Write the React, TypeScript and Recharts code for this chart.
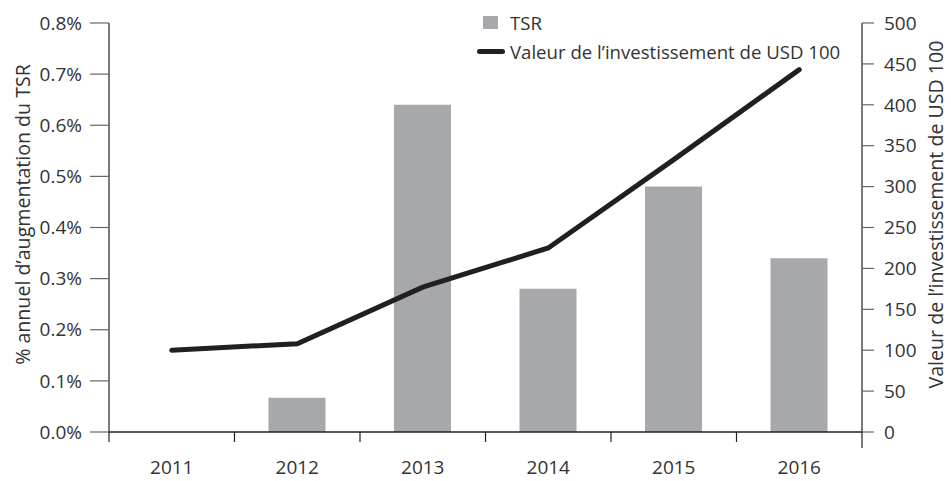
import { ComposedChart, Bar, Line, XAxis, YAxis, Legend } from 'recharts';

const YEARS = ['2011', '2012', '2013', '2014', '2015', '2016'];
const TSR_PCT = [0, 0.067, 0.64, 0.28, 0.48, 0.34];
const INVEST_VALUE = [100, 108, 177, 225, 333, 443];
const PCT_TICKS = [0, 0.1, 0.2, 0.3, 0.4, 0.5, 0.6, 0.7, 0.8];
const USD_TICKS = [0, 50, 100, 150, 200, 250, 300, 350, 400, 450, 500];

const FONT = '"Open Sans", sans-serif';
const TEXT = '#333333';
const AXIS = '#231f20';
const BAR_COLOR = '#a7a8ab';
const LINE_COLOR = '#231f20';

const data = YEARS.map((year, i) => ({ year, tsr: TSR_PCT[i], value: INVEST_VALUE[i] }));

// plot is 753px wide over 6 categories
const HALF_BAND = 753 / YEARS.length / 2;

const YearTick = ({ x, y, payload, index }: any) => (
  <g>
    <line x1={x - HALF_BAND} y1={y - 10} x2={x - HALF_BAND} y2={y} stroke={AXIS} strokeWidth={1.2} />
    {index === YEARS.length - 1 && (
      <line x1={x + HALF_BAND} y1={y - 10} x2={x + HALF_BAND} y2={y + 6} stroke={AXIS} strokeWidth={1.2} />
    )}
    <text x={x} y={y + 32} textAnchor="middle" fill={TEXT} fontFamily={FONT} fontSize={19}>
      {payload.value}
    </text>
  </g>
);

const renderLegend = () => (
  <div style={{ fontFamily: FONT, fontSize: 18.6, color: TEXT, lineHeight: '29px' }}>
    <div style={{ display: 'flex', alignItems: 'center' }}>
      <span style={{ display: 'inline-block', width: 15, height: 13, background: BAR_COLOR, marginLeft: 6, marginRight: 12 }} />
      TSR
    </div>
    <div style={{ display: 'flex', alignItems: 'center' }}>
      <span style={{ display: 'inline-block', width: 28, height: 5, background: LINE_COLOR, borderRadius: 3, marginRight: 5 }} />
      Valeur de l’investissement de USD 100
    </div>
  </div>
);

const sideTitle = (text: string, dx: number) => ({ viewBox }: any) => {
  const cx = viewBox.x + dx;
  const cy = viewBox.y + viewBox.height / 2 - 13;
  return (
    <text x={cx} y={cy} transform={`rotate(-90 ${cx} ${cy})`} textAnchor="middle" dominantBaseline="central"
      fill={TEXT} fontFamily={FONT} fontSize={19.6}>
      {text}
    </text>
  );
};

export default function App() {
  return (
    <div style={{ position: 'absolute', left: 0, top: 0, width: 951, height: 481, background: '#fff' }}>
      <ComposedChart width={951} height={481} data={data} margin={{ top: 23, right: 0, bottom: 0, left: 0 }} barSize={57}>
        <XAxis dataKey="year" height={49} axisLine={{ stroke: AXIS, strokeWidth: 1.5 }} tickLine={false}
          tickSize={10} tickMargin={0} tick={<YearTick />} interval={0} />
        <YAxis yAxisId="pct" orientation="left" width={109} domain={[0, 0.8]} ticks={PCT_TICKS}
          tickFormatter={(v: number) => `${v.toFixed(1)}%`} tickSize={19} tickMargin={8}
          axisLine={{ stroke: AXIS, strokeWidth: 1.2 }} tickLine={{ stroke: '#666', strokeWidth: 1.2 }}
          tick={{ fill: TEXT, fontFamily: FONT, fontSize: 19 }}
          label={{ content: sideTitle('% annuel d’augmentation du TSR', 22) }} />
        <YAxis yAxisId="usd" orientation="right" width={89} domain={[0, 500]} ticks={USD_TICKS}
          tickSize={12} tickMargin={10}
          axisLine={{ stroke: AXIS, strokeWidth: 1.2 }} tickLine={{ stroke: '#666', strokeWidth: 1.2 }}
          tick={{ fill: TEXT, fontFamily: FONT, fontSize: 19, textAnchor: 'start' }}
          label={{ content: sideTitle('Valeur de l’investissement de USD 100', 73) }} />
        <Legend layout="vertical" align="center" verticalAlign="middle" content={renderLegend}
          wrapperStyle={{ top: 8, left: 477, width: 'auto' }} />
        <Bar yAxisId="pct" dataKey="tsr" name="TSR" fill={BAR_COLOR} isAnimationActive={false} />
        <Line yAxisId="usd" dataKey="value" name="Valeur de l’investissement de USD 100" type="linear"
          stroke={LINE_COLOR} strokeWidth={5} strokeLinecap="round" dot={false} activeDot={false}
          isAnimationActive={false} />
      </ComposedChart>
    </div>
  );
}
